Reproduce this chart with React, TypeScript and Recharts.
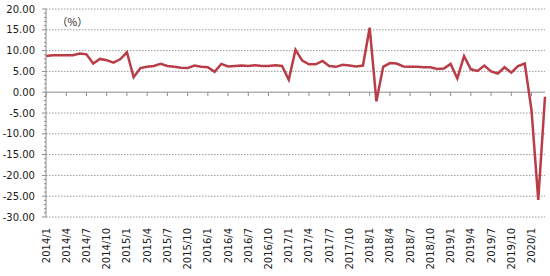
import React from "react";
import { LineChart, Line, XAxis, YAxis, ReferenceLine } from "recharts";

const months: string[] = [
  "2014/1","2014/2","2014/3","2014/4","2014/5","2014/6","2014/7","2014/8","2014/9","2014/10","2014/11","2014/12",
  "2015/1","2015/2","2015/3","2015/4","2015/5","2015/6","2015/7","2015/8","2015/9","2015/10","2015/11","2015/12",
  "2016/1","2016/2","2016/3","2016/4","2016/5","2016/6","2016/7","2016/8","2016/9","2016/10","2016/11","2016/12",
  "2017/1","2017/2","2017/3","2017/4","2017/5","2017/6","2017/7","2017/8","2017/9","2017/10","2017/11","2017/12",
  "2018/1","2018/2","2018/3","2018/4","2018/5","2018/6","2018/7","2018/8","2018/9","2018/10","2018/11","2018/12",
  "2019/1","2019/2","2019/3","2019/4","2019/5","2019/6","2019/7","2019/8","2019/9","2019/10","2019/11","2019/12",
  "2020/1","2020/2","2020/3",
];

const values: number[] = [
  8.7, 8.9, 8.9, 8.9, 8.9, 9.3, 9.1, 6.9, 8.0, 7.7, 7.1, 7.9,
  9.6, 3.6, 5.8, 6.1, 6.3, 6.8, 6.3, 6.1, 5.9, 5.8, 6.4, 6.1,
  6.0, 4.9, 6.8, 6.2, 6.3, 6.4, 6.3, 6.5, 6.3, 6.3, 6.5, 6.3,
  3.0, 10.2, 7.6, 6.7, 6.7, 7.5, 6.3, 6.1, 6.6, 6.4, 6.2, 6.4,
  15.5, -2.2, 6.1, 7.0, 6.9, 6.2, 6.1, 6.1, 6.0, 6.0, 5.6, 5.7,
  6.8, 3.3, 8.7, 5.5, 5.1, 6.4, 5.0, 4.5, 6.0, 4.7, 6.3, 6.9,
  -4.3, -25.9, -1.1,
];

const xTickLabels: string[] = [
  "2014/1","2014/4","2014/7","2014/10","2015/1","2015/4","2015/7","2015/10",
  "2016/1","2016/4","2016/7","2016/10","2017/1","2017/4","2017/7","2017/10",
  "2018/1","2018/4","2018/7","2018/10","2019/1","2019/4","2019/7","2019/10","2020/1",
];

const yMajorTicks: number[] = [-30, -25, -20, -15, -10, -5, 0, 5, 10, 15, 20];
const yAllTicks: number[] = Array.from({ length: 51 }, (_, i) => i - 30);
const zeroTicks: number[] = Array.from({ length: 26 }, (_, i) => i * 3);

const data = months.map((m, i) => ({ month: m, value: values[i] }));

const FONT = "'DejaVu Sans', Verdana, sans-serif";
const LINE_COLOR = "#B83D46";
const AXIS_COLOR = "#8c8c8c";

const YTick = (props: any) => {
  const { x, y, payload } = props;
  const v = payload.value as number;
  const major = v % 5 === 0;
  return (
    <g>
      <line x1={x - (major ? 4 : 2)} x2={x} y1={y} y2={y} stroke={AXIS_COLOR} strokeWidth={1} />
      {major && (
        <text x={x - 11} y={y} dy="0.35em" textAnchor="end" fontFamily={FONT} fontSize={10} fill="#1a1a1a">
          {v.toFixed(2)}
        </text>
      )}
    </g>
  );
};

const XTick = (props: any) => {
  const { x, y, payload } = props;
  return (
    <text
      x={0}
      y={0}
      dy="0.35em"
      textAnchor="end"
      fontFamily={FONT}
      fontSize={10}
      fill="#1a1a1a"
      transform={`translate(${x},${y + 11}) rotate(-90)`}
    >
      {payload.value}
    </text>
  );
};

export default function App() {
  return (
    <div style={{ position: "absolute", left: 0, top: 0, width: 550, height: 276, background: "#fff" }}>
      <LineChart
        width={550}
        height={276}
        data={data}
        margin={{ top: 9, right: 5, bottom: 0, left: 0 }}
      >
        <XAxis
          dataKey="month"
          ticks={xTickLabels}
          interval={0}
          height={59}
          axisLine={false}
          tickLine={false}
          tickSize={0}
          tickMargin={0}
          tick={<XTick />}
        />
        <XAxis xAxisId="n" type="number" domain={[0, 75]} allowDataOverflow hide />
        <YAxis
          type="number"
          domain={[-30, 20]}
          ticks={yAllTicks}
          interval={0}
          width={46}
          axisLine={{ stroke: AXIS_COLOR, strokeWidth: 1 }}
          tickLine={false}
          tickSize={0}
          tickMargin={0}
          tick={<YTick />}
        />
        {yMajorTicks.filter((v) => v !== 0).map((v) => (
          <ReferenceLine key={`g${v}`} y={v} stroke="#999999" strokeWidth={1} strokeDasharray="1.5 1.5" />
        ))}
        <ReferenceLine y={0} stroke={AXIS_COLOR} strokeWidth={1} />
        {zeroTicks.map((k) => (
          <ReferenceLine
            key={`t${k}`}
            xAxisId="n"
            segment={[{ x: k, y: 0 }, { x: k, y: -0.95 }]}
            stroke={AXIS_COLOR}
            strokeWidth={1}
            ifOverflow="visible"
          />
        ))}
        <Line
          type="linear"
          dataKey="value"
          stroke={LINE_COLOR}
          strokeWidth={2.5}
          dot={false}
          isAnimationActive={false}
        />
        <text x={57} y={22} dy="0.35em" fontFamily="'Noto Sans CJK SC', sans-serif" fontSize={10.5} fill="#1a1a1a">
          （%）
        </text>
      </LineChart>
    </div>
  );
}
